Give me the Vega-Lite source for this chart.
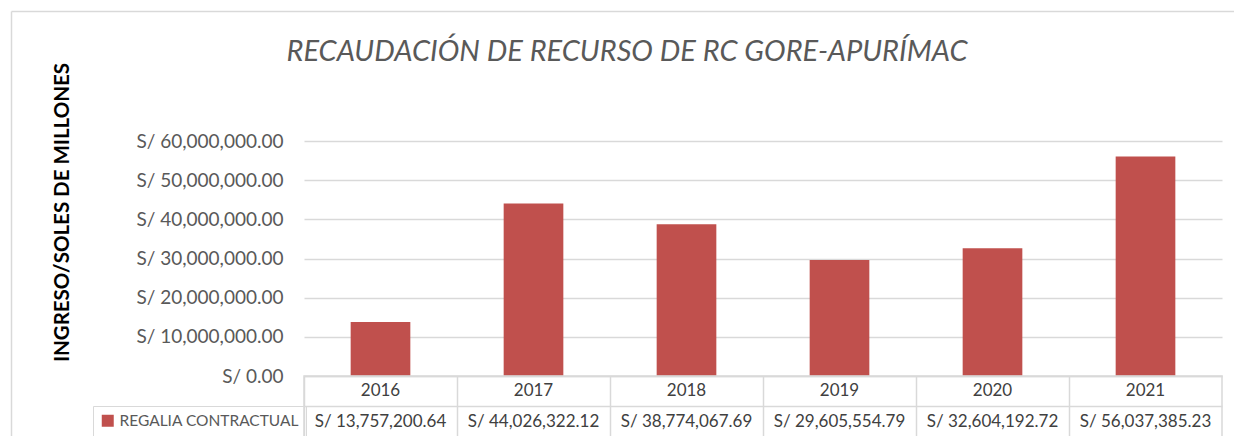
{
  "$schema": "https://vega.github.io/schema/vega-lite/v6.json",
  "autosize": {"type": "pad"},
  "bounds": "flush",
  "padding": {"left": 11, "top": 11, "right": 0, "bottom": 0},
  "background": "white",
  "title": {
    "text": "RECAUDACIÓN DE RECURSO DE RC GORE-APURÍMAC",
    "font": "Lato",
    "fontSize": 29,
    "fontStyle": "italic",
    "fontWeight": "normal",
    "color": "#595959",
    "anchor": "middle",
    "frame": "group",
    "dx": -136,
    "offset": -56
  },
  "data": {
    "values": [
      {"year": "2016", "value": 13757200.64},
      {"year": "2017", "value": 44026322.12},
      {"year": "2018", "value": 38774067.69},
      {"year": "2019", "value": 29605554.79},
      {"year": "2020", "value": 32604192.72},
      {"year": "2021", "value": 56037385.23}
    ]
  },
  "spacing": 0,
  "vconcat": [
    {
      "width": 918,
      "height": 235,
      "view": {"stroke": null},
      "layer": [
        {
          "mark": {"type": "bar", "width": {"band": 0.39}},
          "encoding": {
            "x": {
              "field": "year",
              "type": "ordinal",
              "scale": {"type": "band", "paddingInner": 0, "paddingOuter": 0},
              "axis": null
            },
            "y": {
              "field": "value",
              "type": "quantitative",
              "scale": {"domain": [0, 60000000], "nice": false},
              "axis": {
                "title": "INGRESO/SOLES DE MILLONES",
                "values": [0, 10000000, 20000000, 30000000, 40000000, 50000000, 60000000],
                "labelExpr": "'S/ ' + format(datum.value, ',.2f')",
                "domain": false,
                "ticks": false,
                "grid": true,
                "gridColor": "#d9d9d9",
                "gridWidth": 1.5,
                "labelFont": "Lato",
                "labelFontSize": 19,
                "labelColor": "#595959",
                "labelPadding": 21,
                "titleFont": "Lato",
                "titleFontSize": 20.5,
                "titleFontWeight": "bold",
                "titleColor": "#000000",
                "titleAngle": -90,
                "titleX": -242,
                "titleY": 71,
                "titleAlign": "center",
                "titleBaseline": "middle"
              }
            },
            "color": {
              "datum": "REGALIA CONTRACTUAL",
              "type": "nominal",
              "scale": {"range": ["#C0504D"]},
              "legend": {
                "orient": "none",
                "legendX": -211,
                "legendY": 265,
                "direction": "vertical",
                "title": null,
                "symbolType": "square",
                "symbolSize": 144,
                "symbolStrokeWidth": 0,
                "labelFont": "Lato",
                "labelFontSize": 15.5,
                "labelLimit": 300,
                "labelColor": "#595959",
                "labelOffset": 4,
                "padding": 7,
                "strokeColor": "#d9d9d9"
              }
            }
          }
        },
        {
          "mark": {"type": "tick", "opacity": 0},
          "encoding": {
            "x": {
              "field": "year",
              "type": "ordinal",
              "scale": {"type": "band", "range": [-293, 940]},
              "axis": {
                "orient": "top",
                "offset": 130,
                "labels": false,
                "ticks": false,
                "grid": false,
                "title": null,
                "domainColor": "#d9d9d9",
                "domainWidth": 1.5
              }
            },
            "y": {
              "field": "value",
              "type": "quantitative",
              "scale": {"range": [320, -130]},
              "axis": {
                "orient": "left",
                "offset": 293,
                "labels": false,
                "ticks": false,
                "grid": false,
                "title": null,
                "domainColor": "#d9d9d9",
                "domainWidth": 1.5
              }
            }
          }
        }
      ],
      "resolve": {
        "scale": {"x": "independent", "y": "independent"},
        "axis": {"x": "independent", "y": "independent"}
      }
    },
    {
      "width": 918,
      "height": 61,
      "view": {"stroke": "#d9d9d9", "strokeWidth": 1.5},
      "transform": [
        {"calculate": "'S/ ' + format(datum.value, ',.2f')", "as": "label"}
      ],
      "encoding": {
        "x": {
          "field": "year",
          "type": "ordinal",
          "scale": {"type": "band", "paddingInner": 0, "paddingOuter": 0},
          "axis": {
            "title": null,
            "labels": false,
            "ticks": false,
            "domain": false,
            "grid": true,
            "bandPosition": 0,
            "gridColor": "#d9d9d9",
            "gridWidth": 1.5
          }
        }
      },
      "layer": [
        {
          "mark": {"type": "text", "font": "Lato", "fontSize": 17, "color": "#404040", "baseline": "middle"},
          "encoding": {
            "y": {
              "datum": "Año",
              "type": "nominal",
              "scale": {"type": "band", "domain": ["Año", "Valor"], "paddingInner": 0, "paddingOuter": 0},
              "axis": {
                "title": null,
                "labels": false,
                "ticks": false,
                "domain": false,
                "grid": true,
                "bandPosition": 0,
                "gridColor": "#d9d9d9",
                "gridWidth": 1.5
              }
            },
            "text": {"field": "year"}
          }
        },
        {
          "mark": {"type": "text", "font": "Lato", "fontSize": 17, "color": "#404040", "baseline": "middle"},
          "encoding": {
            "y": {"datum": "Valor", "type": "nominal"},
            "text": {"field": "label"}
          }
        }
      ]
    }
  ]
}
